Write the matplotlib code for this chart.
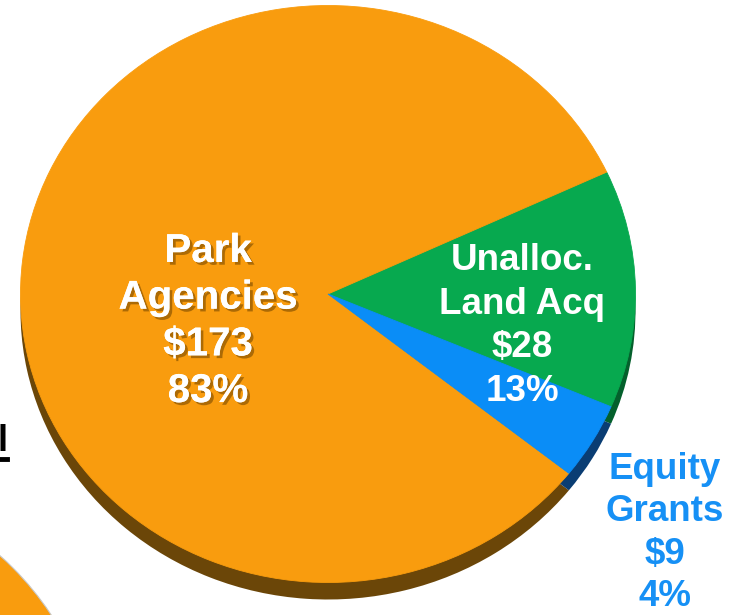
import matplotlib
matplotlib.use("Agg")
import matplotlib.pyplot as plt
import matplotlib.patches as mpatches
import matplotlib.patheffects as pe
from matplotlib.transforms import IdentityTransform

# slice data (in $ millions), listed counterclockwise from the green wedge
labels = ["Unalloc.\nLand Acq", "Park\nAgencies", "Equity\nGrants"]
amounts = [28, 173, 9]
pct_text = ["13%", "83%", "4%"]
top_colors = ["#07A94F", "#F99C0E", "#0A8DF7"]
side_colors = ["#04602C", "#6B4608", "#0A3D73"]

W, H = 737, 615
CX, CY = 328, 294       # pie centre in image pixels
RX, RY = 307.5, 288.5   # half-width / half-height of the pie top
DEPTH = 17              # thickness of the 3D rim, pixels


def px(x, y):
    # image pixel -> data coords of the pie axes
    return (x - CX) / RX, (CY - y) / RY


fig = plt.figure(figsize=(W / 100, H / 100), dpi=100)
ax = fig.add_axes([0, 0, 1, 1])
ax.axis("off")

# piece of the neighbouring pie in the lower-left corner
ax.add_patch(mpatches.Circle((-201, H - 781), 302, transform=IdentityTransform(),
                             facecolor="#F99C0E", edgecolor="#C9C9C9", lw=0.8))

# cut-off underlined text at the left edge
fig.text(-3 / W, 1 - 451 / H, "l", fontsize=26, fontweight="bold", color="black",
         family="Liberation Sans", va="baseline")
fig.add_artist(plt.Line2D([0, 7 / W], [1 - 459 / H] * 2, color="black", lw=3.5))

# rim (shadow copy shifted down) then the top face
ax.pie(amounts, colors=side_colors, startangle=-23, radius=1,
       center=(0, -DEPTH / RY), wedgeprops=dict(linewidth=0))
ax.pie(amounts, colors=top_colors, startangle=-23, radius=1,
       center=(0, 0), wedgeprops=dict(linewidth=0.6, edgecolor="#F99C0E"))
ax.patches[-3].set_edgecolor(top_colors[0])
ax.patches[-1].set_edgecolor(top_colors[2])

ax.set_aspect("auto")
ax.set_xlim(px(0, 0)[0], px(W, 0)[0])
ax.set_ylim(px(0, H)[1], px(0, 0)[1])

font = dict(family="Liberation Sans", fontweight="bold", ha="center", va="center")
shadow = [pe.withSimplePatchShadow(offset=(2, -2), shadow_rgbFace="#7A4A00", alpha=0.6),
          pe.Normal()]

x, y = px(208, 321)
ax.text(x, y, f"{labels[1]}\n${amounts[1]}\n{pct_text[1]}", color="white",
        fontsize=29, linespacing=1.29, path_effects=shadow, **font)

x, y = px(522, 326)
ax.text(x, y, f"{labels[0]}\n${amounts[0]}\n{pct_text[0]}", color="white",
        fontsize=26.5, linespacing=1.31, **font)

x, y = px(665, 533)
ax.text(x, y, f"{labels[2]}\n${amounts[2]}\n{pct_text[2]}", color="#1690F5",
        fontsize=26.5, linespacing=1.27, **font)

fig.savefig("out.png", dpi=100)
